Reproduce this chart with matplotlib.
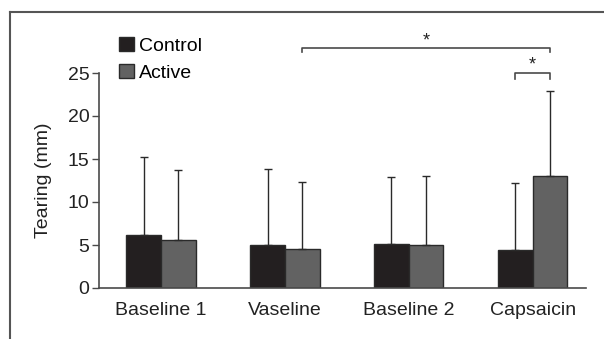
import matplotlib
matplotlib.use("Agg")
import matplotlib.pyplot as plt
from matplotlib.lines import Line2D
from matplotlib.patches import Patch
import numpy as np

plt.rcParams["font.family"] = ["Liberation Sans", "DejaVu Sans"]

# ── data ──────────────────────────────────────────────────────────────
conditions = ["Baseline 1", "Vaseline", "Baseline 2", "Capsaicin"]
control_mean = [6.2, 5.0, 5.1, 4.4]
control_sd = [9.0, 8.8, 7.8, 7.8]
active_mean = [5.6, 4.5, 4.95, 13.0]
active_sd = [8.1, 7.8, 8.1, 9.9]
yticks = [0, 5, 10, 15, 20, 25]

CONTROL = "#231f20"
ACTIVE = "#626262"
EDGE = "#2a2a2a"
AXIS = "#4a4a4a"
TEXT = "#222222"

fig = plt.figure(figsize=(6.04, 3.39), dpi=100)
ax = fig.add_axes([99 / 604, 1 - 288 / 339, (586 - 99) / 604, (288 - 73) / 339])

x = np.arange(len(conditions))
w = 0.28
err_kw = dict(ecolor=EDGE, elinewidth=1.0, capsize=3, capthick=1.0)
ax.bar(x - w / 2, control_mean, w, color=CONTROL, edgecolor=EDGE, linewidth=1.0,
       yerr=[np.zeros(4), control_sd], error_kw=err_kw, label="Control")
ax.bar(x + w / 2, active_mean, w, color=ACTIVE, edgecolor=EDGE, linewidth=1.0,
       yerr=[np.zeros(4), active_sd], error_kw=err_kw, label="Active")

ax.set_xlim(-0.5, 3.43)
ax.set_ylim(0, 25)
ax.set_yticks(yticks)
ax.set_xticks(x)
ax.set_xticklabels(conditions)
ax.tick_params(axis="x", length=0, pad=10, labelsize=14, colors=TEXT)
ax.tick_params(axis="y", length=5, width=1.0, color=AXIS, pad=2, labelsize=14,
               labelcolor=TEXT)
for s in ("top", "right"):
    ax.spines[s].set_visible(False)
for s in ("left", "bottom"):
    ax.spines[s].set_color(AXIS)
    ax.spines[s].set_linewidth(1.2)
ax.set_ylabel("Tearing (mm)", fontsize=14, color=TEXT, labelpad=11)

# significance brackets
def bracket(x0, x1, y, drop, star_y):
    ax.plot([x0, x0, x1, x1], [y - drop, y, y, y - drop], color=AXIS,
            linewidth=1.2, clip_on=False)
    ax.text((x0 + x1) / 2, star_y, "*", ha="center", va="center", fontsize=13,
            color=TEXT)

bracket(x[1] + w / 2, x[3] + w / 2, 27.9, 0.5, 28.7)
bracket(x[3] - w / 2, x[3] + w / 2, 25.0, 0.7, 25.9)

handles = [Patch(facecolor=CONTROL, edgecolor=EDGE, label="Control"),
           Patch(facecolor=ACTIVE, edgecolor=EDGE, label="Active")]
fig.legend(handles=handles, loc="upper left", bbox_to_anchor=(119 / 604, 1 - 37 / 339),
           frameon=False, fontsize=14, handlelength=0.75, handleheight=0.75,
           handletextpad=0.3, labelspacing=0.45, borderpad=0, borderaxespad=0)

# outer frame (top and left edges visible)
fig.add_artist(Line2D([10 / 604, 1], [1 - 12 / 339] * 2, color="#555555", linewidth=1.5))
fig.add_artist(Line2D([10 / 604] * 2, [0, 1 - 12 / 339], color="#555555", linewidth=1.5))

fig.savefig("out.png", dpi=100)
